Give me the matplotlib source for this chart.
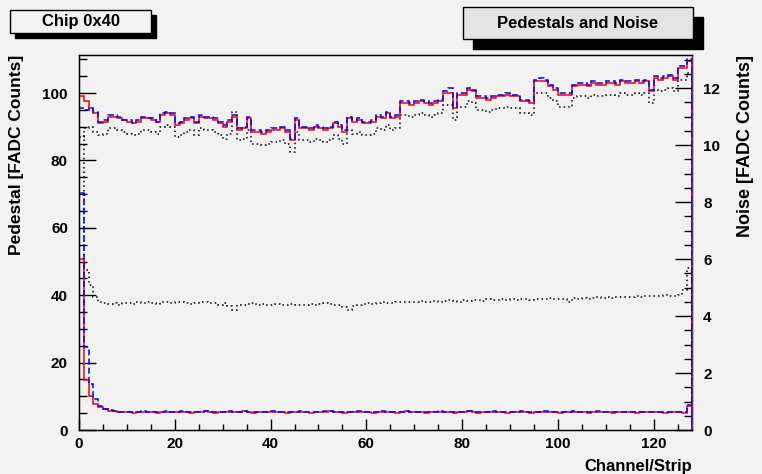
import numpy as np
import matplotlib
matplotlib.use('Agg')
from matplotlib import pyplot as plt
from matplotlib.patches import Rectangle
from matplotlib.ticker import MultipleLocator

plt.rcParams['font.family'] = ['Liberation Sans', 'DejaVu Sans']
plt.rcParams['font.weight'] = 'bold'

# channel bins
edges = np.arange(129)

# pedestals [FADC counts], left axis
ped_red = [99, 97.5, 95.5, 94, 91, 91.5, 93, 93, 92.5, 92,
           91.5, 91, 91.5, 92.5, 92.5, 92, 91.5, 93.5, 94, 93.5,
           90.5, 91, 92, 92.5, 91, 93, 92.5, 92.5, 92, 91,
           90, 91.5, 93, 89, 89.5, 92.5, 88.5, 88.5, 88, 88.5,
           89, 89, 89.5, 88.5, 86, 92, 89.5, 89.5, 89, 90,
           89.5, 89, 89.5, 91, 90, 88.5, 92.5, 91.5, 92, 91,
           91, 91.5, 93, 92.5, 94, 92.5, 93, 97, 97, 96.5,
           97, 97.5, 97, 96.5, 97, 97.5, 100, 100, 95.5, 99.5,
           99.5, 101, 100.5, 98.5, 98.5, 98, 98.5, 99, 99, 99.5,
           99, 99, 97.5, 97.5, 97, 103.5, 103.5, 103.5, 102, 101,
           99.5, 99.5, 99.5, 102, 102.5, 102.5, 102, 103, 102.5, 102.5,
           103, 103, 102.5, 103.5, 103, 103, 103.5, 103, 103.5, 100.5,
           104.5, 104, 104.5, 105, 104, 107.5, 107.5, 109.5]
ped_blue = [95.5, 95, 95.5, 94.5, 91.5, 92, 93.5, 93.5, 93, 92,
            92, 91, 92, 93, 92.5, 92.5, 91.5, 94, 94.5, 94,
            91, 91.5, 92.5, 93, 91.5, 93.5, 93, 93, 92.5, 91.5,
            90.5, 92, 93.5, 89.5, 90, 93, 89, 89, 88.5, 89,
            89.5, 89.5, 90, 89, 86.5, 92.5, 90, 90, 89.5, 90.5,
            90, 89.5, 90, 91.5, 90.5, 89, 93, 92, 92.5, 91.5,
            91.5, 92, 93.5, 93, 94.5, 93, 93.5, 97.5, 97.5, 97,
            97.5, 98, 97.5, 97, 97.5, 98, 100.5, 101.5, 96, 100,
            100, 101.5, 101, 99, 99, 98.5, 99, 99.5, 99.5, 100,
            99.5, 99.5, 98, 98, 97.5, 104, 104.5, 104, 102.5, 101.5,
            100, 100, 100, 102.5, 103, 103, 102.5, 103.5, 103, 103,
            103.5, 103.5, 103, 104, 103.5, 103.5, 104, 103.5, 104, 101,
            105, 104.5, 105, 105.5, 104.5, 108, 108, 110]
ped_dot = [87, 89.5, 90, 88.5, 87.5, 88, 89.5, 89.5, 89, 88.5,
           88, 87.5, 88, 89, 89, 88.5, 88, 90, 90.5, 90,
           87, 87.5, 88.5, 89, 87.5, 89.5, 89, 89, 88.5, 87.5,
           86.5, 88, 94.5, 86, 86.5, 89, 85, 85, 84.5, 85,
           85.5, 85.5, 86, 85, 82.5, 88.5, 86, 86, 85.5, 86.5,
           86, 85.5, 86, 87.5, 86.5, 85, 89, 88, 88.5, 87.5,
           87.5, 88, 89.5, 89, 90.5, 89, 89.5, 93.5, 93.5, 93,
           93.5, 94, 93.5, 93, 93.5, 94, 96.5, 96.5, 92, 96,
           96, 97.5, 97, 95, 95, 94.5, 95, 95.5, 95.5, 96,
           95.5, 95.5, 94, 94, 93.5, 100, 100, 100, 98.5, 97.5,
           96, 96, 96, 98.5, 99, 99, 98.5, 99.5, 99, 99,
           99.5, 99.5, 99, 100, 99.5, 99.5, 100, 99.5, 100, 97,
           101, 100.5, 101, 101.5, 100.5, 104, 104, 106]

# noise [FADC counts], right axis
noise_red = [6.0, 1.75, 1.2, 0.92, 0.8, 0.72, 0.68, 0.65, 0.62, 0.62,
             0.63, 0.61, 0.62, 0.64, 0.62, 0.63, 0.61, 0.62, 0.64, 0.63,
             0.62, 0.64, 0.63, 0.61, 0.62, 0.63, 0.65, 0.62, 0.61, 0.63,
             0.62, 0.64, 0.62, 0.63, 0.65, 0.62, 0.61, 0.62, 0.63, 0.62,
             0.64, 0.62, 0.63, 0.61, 0.62, 0.63, 0.64, 0.62, 0.61, 0.63,
             0.62, 0.64, 0.65, 0.63, 0.62, 0.61, 0.63, 0.62, 0.64, 0.63,
             0.62, 0.61, 0.62, 0.64, 0.63, 0.62, 0.61, 0.63, 0.65, 0.62,
             0.63, 0.62, 0.61, 0.63, 0.62, 0.64, 0.62, 0.63, 0.61, 0.62,
             0.63, 0.65, 0.62, 0.61, 0.63, 0.62, 0.64, 0.63, 0.62, 0.61,
             0.62, 0.63, 0.64, 0.62, 0.61, 0.63, 0.62, 0.64, 0.63, 0.62,
             0.61, 0.63, 0.62, 0.64, 0.62, 0.63, 0.61, 0.62, 0.64, 0.63,
             0.62, 0.61, 0.63, 0.62, 0.63, 0.62, 0.61, 0.62, 0.63, 0.62,
             0.63, 0.62, 0.61, 0.62, 0.63, 0.62, 0.61, 0.85]
noise_blue = [8.3, 2.9, 1.6, 1.1, 0.85, 0.75, 0.7, 0.66, 0.64, 0.63,
              0.64, 0.62, 0.63, 0.65, 0.63, 0.62, 0.62, 0.63, 0.65, 0.64,
              0.63, 0.65, 0.62, 0.62, 0.63, 0.64, 0.66, 0.63, 0.62, 0.64,
              0.63, 0.65, 0.63, 0.62, 0.66, 0.63, 0.62, 0.63, 0.64, 0.63,
              0.65, 0.63, 0.62, 0.62, 0.63, 0.64, 0.65, 0.63, 0.62, 0.64,
              0.63, 0.65, 0.66, 0.64, 0.63, 0.62, 0.64, 0.63, 0.65, 0.64,
              0.63, 0.62, 0.63, 0.65, 0.64, 0.63, 0.62, 0.64, 0.66, 0.63,
              0.64, 0.63, 0.62, 0.64, 0.63, 0.65, 0.63, 0.64, 0.62, 0.63,
              0.64, 0.66, 0.63, 0.62, 0.64, 0.63, 0.65, 0.64, 0.63, 0.62,
              0.63, 0.64, 0.65, 0.63, 0.62, 0.64, 0.63, 0.65, 0.64, 0.63,
              0.62, 0.64, 0.63, 0.65, 0.63, 0.64, 0.62, 0.63, 0.65, 0.64,
              0.63, 0.62, 0.64, 0.63, 0.64, 0.63, 0.62, 0.63, 0.64, 0.63,
              0.64, 0.63, 0.62, 0.63, 0.64, 0.63, 0.62, 0.88]
noise_dot = [10.3, 5.6, 5.1, 4.65, 4.5, 4.45, 4.42, 4.45, 4.4, 4.45,
             4.45, 4.42, 4.48, 4.45, 4.5, 4.45, 4.42, 4.48, 4.5, 4.45,
             4.5, 4.48, 4.45, 4.42, 4.45, 4.5, 4.48, 4.45, 4.45, 4.4,
             4.45, 4.35, 4.22, 4.38, 4.4, 4.42, 4.45, 4.4, 4.42, 4.38,
             4.4, 4.42, 4.38, 4.4, 4.42, 4.4, 4.38, 4.4, 4.42, 4.4,
             4.42, 4.45, 4.42, 4.4, 4.38, 4.3, 4.2, 4.35, 4.4, 4.42,
             4.45, 4.42, 4.45, 4.48, 4.45, 4.45, 4.48, 4.5, 4.48, 4.5,
             4.5, 4.52, 4.5, 4.48, 4.52, 4.5, 4.52, 4.55, 4.52, 4.5,
             4.55, 4.52, 4.55, 4.55, 4.52, 4.58, 4.55, 4.55, 4.58, 4.55,
             4.58, 4.55, 4.6, 4.58, 4.55, 4.6, 4.58, 4.6, 4.62, 4.6,
             4.58, 4.6, 4.5, 4.62, 4.6, 4.62, 4.6, 4.62, 4.65, 4.62,
             4.65, 4.62, 4.65, 4.68, 4.65, 4.68, 4.7, 4.68, 4.7, 4.72,
             4.7, 4.72, 4.75, 4.72, 4.7, 4.75, 4.9, 5.7]

bg = '#f2f2f2'
fig = plt.figure(figsize=(7.62, 4.74), dpi=100, facecolor=bg)
ax = fig.add_axes([79/762, 1-430/474, 613/762, 375/474], facecolor=bg)
ax2 = ax.twinx()

# noise (right axis) first, pedestals on top
ax2.stairs(noise_dot, edges, color='black', lw=1.1, ls=(0, (1, 2)))
ax2.stairs(noise_red, edges, color='red', lw=1.1)
ax2.stairs(noise_blue, edges, color='blue', lw=1.1, ls=(0, (4, 2)))

ax.stairs(ped_dot, edges, color='black', lw=1.1, ls=(0, (1, 2)))
ax.stairs(ped_red, edges, color='red', lw=1.1)
ax.stairs(ped_blue, edges, color='blue', lw=1.1, ls=(0, (4, 2)))

ax.set_xlim(0, 128)
ax.set_ylim(0, 111.3)
ax2.set_ylim(0, 13.16)

ax.xaxis.set_major_locator(MultipleLocator(20))
ax.xaxis.set_minor_locator(MultipleLocator(5))
ax.yaxis.set_major_locator(MultipleLocator(20))
ax.yaxis.set_minor_locator(MultipleLocator(5))
ax2.yaxis.set_major_locator(MultipleLocator(2))
ax2.yaxis.set_minor_locator(MultipleLocator(0.5))

ax.tick_params(axis='y', which='major', direction='in', length=12, width=1, labelsize=11, pad=8)
ax.tick_params(axis='y', which='minor', direction='in', length=6, width=1)
ax.tick_params(axis='x', which='major', direction='in', length=8, width=1, labelsize=11, pad=5)
ax.tick_params(axis='x', which='minor', direction='in', length=4, width=1)
ax2.tick_params(axis='y', which='major', direction='in', length=12, width=1, labelsize=11, pad=8)
ax2.tick_params(axis='y', which='minor', direction='in', length=6, width=1)
for lab in ax.get_xticklabels() + ax.get_yticklabels() + ax2.get_yticklabels():
    lab.set_fontweight('bold')

for sp in ax.spines.values():
    sp.set_linewidth(1)
ax2.spines['right'].set_color('#5a2d8a')

fig.text(17/762, 1-55/474, 'Pedestal [FADC Counts]', rotation=90, ha='center', va='top',
         fontsize=12.5, fontweight='bold')
fig.text(745/762, 1-55/474, 'Noise [FADC Counts]', rotation=90, ha='center', va='top',
         fontsize=13, fontweight='bold')
fig.text(692/762, 1-466/474, 'Channel/Strip', ha='right', va='center',
         fontsize=12, fontweight='bold')

# title boxes with shadow, in pixel coords
def box(x0, y0, x1, y1, sh, fill, txt):
    W, H = 762, 474
    fig.patches.append(Rectangle(((x0+sh)/W, 1-(y1+sh)/H), (x1-x0)/W, (y1-y0)/H,
                                 transform=fig.transFigure, facecolor='black', edgecolor='black'))
    fig.patches.append(Rectangle((x0/W, 1-y1/H), (x1-x0)/W, (y1-y0)/H,
                                 transform=fig.transFigure, facecolor=fill, edgecolor='black', lw=1))
    fig.text((x0+x1)/2/W, 1-(y0+y1)/2/H, txt, ha='center', va='center',
             fontsize=12, fontweight='bold')

box(10, 10, 151, 33, 5, '#f2f2f2', 'Chip 0x40')
box(463, 7, 693, 39, 10, '#e4e4e4', 'Pedestals and Noise')

fig.savefig('out.png', dpi=100, facecolor=bg)
